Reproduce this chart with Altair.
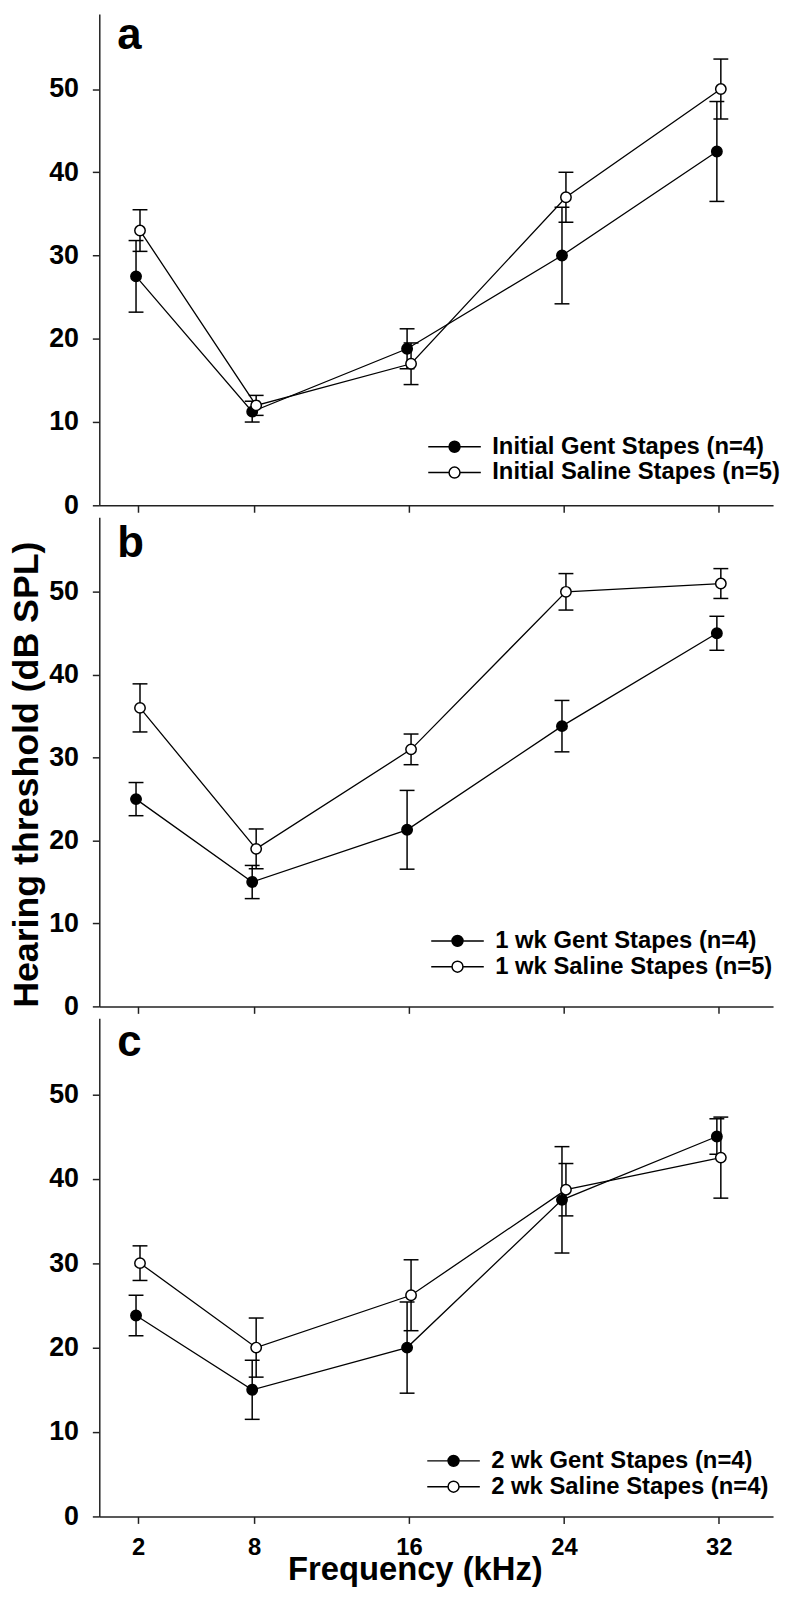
import altair as alt
import pandas as pd

FONT = "Liberation Sans"

FREQ = [2, 8, 16, 24, 32]
X_TICKS = [2, 8, 16, 24, 32]
Y_TICKS = [0, 10, 20, 30, 40, 50]

# panel a
A_GENT = [27.5, 11.25, 18.8, 30.0, 42.5]
A_GENT_SE = [4.3, 1.25, 2.4, 5.8, 6.0]
A_SAL = [33.0, 12.0, 17.0, 37.0, 50.0]
A_SAL_SE = [2.5, 1.2, 2.5, 3.0, 3.6]
A_LABELS = ["Initial Gent Stapes (n=4)", "Initial Saline Stapes (n=5)"]

# panel b
B_GENT = [25.0, 15.0, 21.3, 33.8, 45.0]
B_GENT_SE = [2.0, 2.0, 4.75, 3.1, 2.05]
B_SAL = [36.0, 19.0, 31.0, 50.0, 51.0]
B_SAL_SE = [2.9, 2.4, 1.85, 2.2, 1.8]
B_LABELS = ["1 wk Gent Stapes (n=4)", "1 wk Saline Stapes (n=5)"]

# panel c
C_GENT = [23.8, 15.0, 20.0, 37.5, 45.0]
C_GENT_SE = [2.4, 3.5, 5.4, 6.3, 2.1]
C_SAL = [30.0, 20.0, 26.2, 38.7, 42.5]
C_SAL_SE = [2.05, 3.5, 4.2, 3.1, 4.8]
C_LABELS = ["2 wk Gent Stapes (n=4)", "2 wk Saline Stapes (n=4)"]

WIDTH = 679
LEGEND_PATH = ("M-2.5,0H-0.52M0.52,0H2.5"
               "M0.52,0A0.52,0.52,0,1,1,-0.52,0A0.52,0.52,0,1,1,0.52,0Z")


def panel(letter, gent, gse, sal, sse, labels, height, show_x, legx, legy,
          letter_y, ytitle=None):
    rows = []
    for i, f in enumerate(FREQ):
        rows.append(dict(freq=f, thr=gent[i], lo=gent[i] - gse[i],
                         hi=gent[i] + gse[i], series=labels[0]))
    for i, f in enumerate(FREQ):
        rows.append(dict(freq=f, thr=sal[i], lo=sal[i] - sse[i],
                         hi=sal[i] + sse[i], series=labels[1]))
    df = pd.DataFrame(rows)

    xargs = dict(values=X_TICKS, labels=show_x, grid=False,
                 tickSize=7, tickWidth=1.5, domainWidth=1.5,
                 domainColor="#222", tickColor="#222",
                 labelFont=FONT, labelFontSize=24, labelFontWeight="bold",
                 labelColor="black", labelPadding=12, labelFlush=False)
    if show_x:
        xargs.update(title="Frequency (kHz)", titleFont=FONT, titleFontSize=33,
                     titleFontWeight="bold", titleColor="black", titleX=318,
                     titleY=64, titleBaseline="alphabetic", titleAlign="center")
    else:
        xargs.update(title=None)
    xaxis = alt.Axis(**xargs)
    yargs = dict(values=Y_TICKS, grid=False, tickSize=7, tickWidth=1.5,
                 domainWidth=1.5, domainColor="#222", tickColor="#222",
                 labelFont=FONT, labelFontSize=27, labelFontWeight="bold",
                 labelColor="black", labelPadding=14)
    if ytitle:
        yargs.update(title=ytitle, titleFont=FONT, titleFontSize=36,
                     titleFontWeight="bold", titleColor="black",
                     titleX=-62, titleY=259, titleBaseline="alphabetic",
                     titleAngle=-90, titleAlign="center")
    else:
        yargs.update(title=None)
    yaxis = alt.Axis(**yargs)

    xs = alt.Scale(domain=[0, 34.8], nice=False, zero=False)
    ys = alt.Scale(domain=[0, 59], nice=False, zero=False)
    X = alt.X("freq:Q", scale=xs, axis=xaxis)

    layers = []
    for s, off in ((labels[0], -2), (labels[1], 2)):
        b = alt.Chart(df).transform_filter(alt.datum.series == s)
        layers.append(b.mark_line(color="black", strokeWidth=1.3, xOffset=off)
                      .encode(x=X, y=alt.Y("thr:Q", scale=ys, axis=yaxis)))
    for s, off in ((labels[0], -2), (labels[1], 2)):
        b = alt.Chart(df).transform_filter(alt.datum.series == s)
        layers.append(b.mark_rule(color="black", strokeWidth=1.5, xOffset=off)
                      .encode(x=X, y=alt.Y("lo:Q", scale=ys, axis=yaxis),
                              y2="hi:Q"))
        for fld in ("lo", "hi"):
            layers.append(b.mark_tick(color="black", orient="horizontal",
                                      size=15, thickness=1.5, xOffset=off,
                                      opacity=1)
                          .encode(x=X, y=alt.Y(f"{fld}:Q", scale=ys, axis=yaxis)))
    for s, off in ((labels[0], -2), (labels[1], 2)):
        b = alt.Chart(df).transform_filter(alt.datum.series == s)
        layers.append(
            b.mark_point(shape="circle", filled=True, size=110, stroke="black",
                         strokeWidth=1.5, opacity=1, xOffset=off)
            .encode(x=X, y=alt.Y("thr:Q", scale=ys, axis=yaxis),
                    fill=alt.Fill("series:N",
                                  scale=alt.Scale(domain=labels,
                                                  range=["black", "white"]),
                                  legend=alt.Legend(
                                      title=None, orient="none",
                                      legendX=legx, legendY=legy,
                                      symbolType=LEGEND_PATH, symbolSize=449,
                                      symbolStrokeColor="black",
                                      symbolStrokeWidth=1.5, symbolOpacity=1,
                                      labelFont=FONT, labelFontSize=24,
                                      labelFontWeight="bold",
                                      labelColor="black", labelOffset=26,
                                      labelLimit=500, rowPadding=2,
                                      padding=0)))
        )
    lab = (alt.Chart(pd.DataFrame({"t": [letter]}))
           .mark_text(align="left", baseline="top", font=FONT,
                      fontSize=44, fontWeight="bold", color="black")
           .encode(text="t:N", x=alt.value(18), y=alt.value(letter_y)))
    layers.append(lab)
    return alt.layer(*layers).properties(width=WIDTH, height=height)


HA, HB, HC = 495, 493, 502
pa = panel("a", A_GENT, A_GENT_SE, A_SAL, A_SAL_SE, A_LABELS, HA, False,
           346, HA - 71, 0)
pb = panel("b", B_GENT, B_GENT_SE, B_SAL, B_SAL_SE, B_LABELS, HB, False,
           349, HB - 78, 5, ytitle="Hearing threshold (dB SPL)")
pc = panel("c", C_GENT, C_GENT_SE, C_SAL, C_SAL_SE, C_LABELS, HC, True,
           345, HC - 68, 3)

chart = (alt.vconcat(pa, pb, pc, spacing=12, bounds="flush")
         .resolve_scale(fill="independent")
         .properties(padding={"left": 0, "top": 0, "right": 0, "bottom": 0})
         .configure_view(stroke=None))

chart.save("out.html", embed_options={"renderer": "svg", "actions": False})
